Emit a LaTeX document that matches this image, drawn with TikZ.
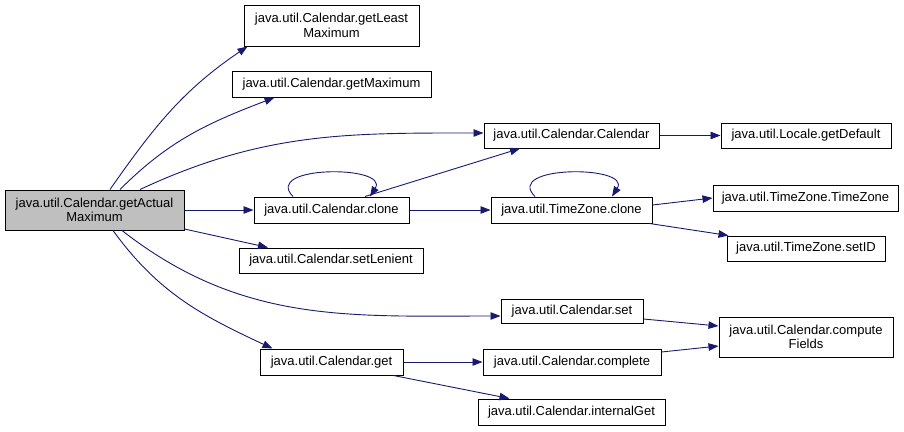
\documentclass[tikz,border=0pt]{standalone}
\usepackage{fontspec}
\setmainfont{Liberation Sans}
\usepackage{xcolor}
\usetikzlibrary{arrows.meta}
\definecolor{edgeblue}{RGB}{25,25,112}
\definecolor{maingray}{RGB}{191,191,191}

\tikzset{
  fn/.style={draw=black, line width=1pt, fill=white, inner sep=1pt, align=center,
    font=\fontsize{13}{14.5}\selectfont},
  call/.style={draw=edgeblue, line width=0.9pt, -{Triangle[length=10pt,width=7.5pt]}}
}

\begin{document}
\begin{tikzpicture}[x=1pt, y=-1pt]
            \useasboundingbox (0,0) rectangle (904,431);

            % function boxes
            \node[fn, fill=maingray, minimum width=179, minimum height=40] (main) at (94.5,210) {java.util.Calendar.getActual\\Maximum};
            \node[fn, minimum width=175, minimum height=41] (leastmax) at (331.5,25.5) {java.util.Calendar.getLeast\\Maximum};
            \node[fn, minimum width=199, minimum height=26] (getmax) at (331.5,84) {java.util.Calendar.getMaximum};
            \node[fn, minimum width=175, minimum height=25] (calcal) at (571.5,135.5) {java.util.Calendar.Calendar};
            \node[fn, minimum width=170, minimum height=25] (locale) at (806,135.5) {java.util.Locale.getDefault};
            \node[fn, minimum width=155, minimum height=26] (calclone) at (331.5,210) {java.util.Calendar.clone};
            \node[fn, minimum width=161, minimum height=26] (tzclone) at (571.5,210) {java.util.TimeZone.clone};
            \node[fn, minimum width=185, minimum height=26] (tztz) at (805.5,198) {java.util.TimeZone.TimeZone};
            \node[fn, minimum width=158, minimum height=25] (setid) at (806,248.5) {java.util.TimeZone.setID};
            \node[fn, minimum width=184, minimum height=25] (lenient) at (331,260.5) {java.util.Calendar.setLenient};
            \node[fn, minimum width=142, minimum height=24] (calset) at (572,311) {java.util.Calendar.set};
            \node[fn, minimum width=174, minimum height=40] (computef) at (806,337) {java.util.Calendar.compute\\Fields};
            \node[fn, minimum width=143, minimum height=26] (calget) at (331.5,362) {java.util.Calendar.get};
            \node[fn, minimum width=178, minimum height=26] (complete) at (572,362) {java.util.Calendar.complete};
            \node[fn, minimum width=187, minimum height=26] (internal) at (571.5,412) {java.util.Calendar.internalGet};

            % calls out of getActualMaximum
            \draw[call] ([xshift=15.5]main.north) to[out=55, in=214] ([xshift=4]leastmax.south west);
            \draw[call] ([xshift=25.5]main.north) to[out=45, in=201] ([xshift=-57]getmax.south);
            \draw[call] ([xshift=45.5]main.north) to[out=25, in=180] ([yshift=2.5]calcal.west);
            \draw[call] (main.east) -- (calclone.west);
            \draw[call] ([yshift=-19]main.east) -- ([xshift=-63]lenient.north);
            \draw[call] ([xshift=27.5]main.south) to[out=-38, in=180] ([yshift=-5]calset.west);
            \draw[call] ([xshift=18.5]main.south) to[out=-54, in=155] ([xshift=-59]calget.north);

            % clone
            \draw[call] ([xshift=-38.5]calclone.north) .. controls (262,165) and (390,165) .. ([xshift=38.5]calclone.north);
            \draw[call] ([xshift=33.5]calclone.north) -- ([xshift=-51.5]calcal.south);
            \draw[call] (calclone.east) -- (tzclone.west);
            \draw[call] (calcal.east) -- (locale.west);

            % TimeZone.clone
            \draw[call] ([xshift=-36.5]tzclone.north) .. controls (503,165) and (632,165) .. ([xshift=40.5]tzclone.north);
            \draw[call] ([yshift=5]tzclone.east) -- (tztz.west);
            \draw[call] ([xshift=-3]tzclone.south east) -- ([xshift=2]setid.north west);

            % set and get
            \draw[call] ([yshift=-8]calset.east) -- ([yshift=11]computef.west);
            \draw[call] (calget.east) -- (complete.west);
            \draw[call] ([xshift=-10]calget.south east) -- ([xshift=-62]internal.north);
            \draw[call] ([yshift=10]complete.east) -- ([yshift=-9]computef.west);
        \end{tikzpicture}
\end{document}
